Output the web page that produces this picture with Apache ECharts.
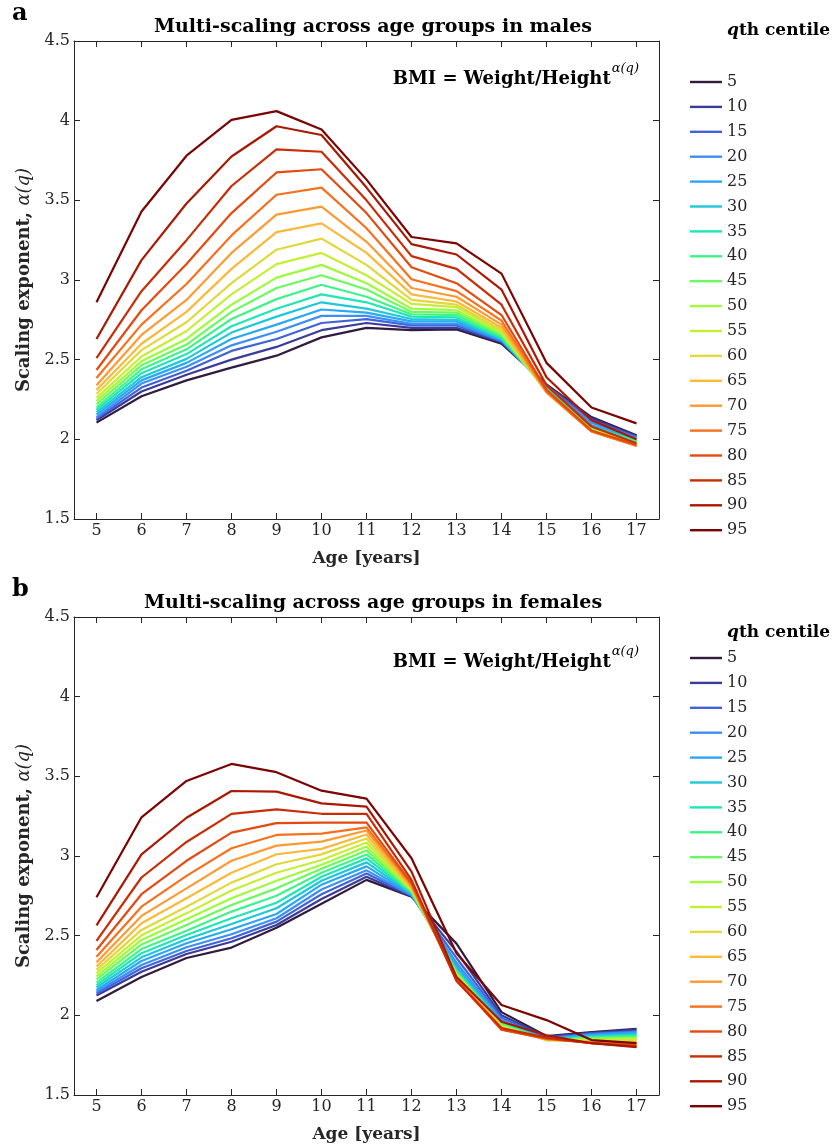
<!DOCTYPE html>
<html><head><meta charset="utf-8">
<script src="https://cdn.jsdelivr.net/npm/echarts@6/dist/echarts.min.js"></script>
<style>html,body{margin:0;padding:0;background:#fff}#c{width:835px;height:1144px}</style>
</head><body><div id="c"></div>
<script>
const ages = [5, 6, 7, 8, 9, 10, 11, 12, 13, 14, 15, 16, 17];
const centiles = ['5','10','15','20','25','30','35','40','45','50','55','60','65','70','75','80','85','90','95'];
const yTicks = [1.5, 2, 2.5, 3, 3.5, 4, 4.5];

// males: one row per centile (5..95), one value per age (5..17)
const males = [
  [2.105, 2.27, 2.37, 2.45, 2.525, 2.64, 2.70, 2.685, 2.69, 2.60, 2.345, 2.14, 2.025],
  [2.12, 2.30, 2.405, 2.50, 2.58, 2.685, 2.73, 2.70, 2.70, 2.61, 2.34, 2.13, 2.02],
  [2.13, 2.325, 2.43, 2.555, 2.63, 2.73, 2.755, 2.715, 2.715, 2.615, 2.335, 2.12, 2.015],
  [2.14, 2.35, 2.455, 2.59, 2.675, 2.775, 2.775, 2.725, 2.725, 2.62, 2.33, 2.105, 2.01],
  [2.155, 2.37, 2.48, 2.63, 2.72, 2.815, 2.795, 2.74, 2.74, 2.625, 2.325, 2.09, 2.0],
  [2.17, 2.39, 2.505, 2.67, 2.77, 2.86, 2.82, 2.755, 2.75, 2.63, 2.32, 2.08, 1.995],
  [2.185, 2.415, 2.535, 2.71, 2.82, 2.91, 2.86, 2.77, 2.765, 2.635, 2.315, 2.075, 1.99],
  [2.20, 2.44, 2.565, 2.755, 2.88, 2.97, 2.895, 2.785, 2.78, 2.645, 2.31, 2.07, 1.985],
  [2.22, 2.465, 2.595, 2.80, 2.95, 3.03, 2.94, 2.80, 2.795, 2.655, 2.305, 2.065, 1.98],
  [2.24, 2.49, 2.63, 2.845, 3.015, 3.095, 2.98, 2.82, 2.81, 2.665, 2.30, 2.06, 1.975],
  [2.26, 2.52, 2.68, 2.91, 3.10, 3.17, 3.03, 2.85, 2.83, 2.675, 2.30, 2.055, 1.97],
  [2.285, 2.56, 2.735, 2.98, 3.19, 3.26, 3.095, 2.875, 2.845, 2.685, 2.295, 2.055, 1.965],
  [2.31, 2.60, 2.80, 3.07, 3.30, 3.355, 3.17, 2.91, 2.865, 2.70, 2.295, 2.05, 1.96],
  [2.34, 2.655, 2.875, 3.17, 3.41, 3.46, 3.24, 2.95, 2.895, 2.72, 2.295, 2.05, 1.96],
  [2.385, 2.72, 2.975, 3.28, 3.535, 3.58, 3.325, 3.005, 2.93, 2.745, 2.30, 2.05, 1.96],
  [2.435, 2.81, 3.10, 3.42, 3.675, 3.695, 3.42, 3.08, 2.98, 2.78, 2.31, 2.055, 1.965],
  [2.51, 2.93, 3.25, 3.59, 3.82, 3.805, 3.50, 3.15, 3.07, 2.845, 2.34, 2.08, 1.975],
  [2.63, 3.125, 3.48, 3.775, 3.965, 3.91, 3.58, 3.225, 3.16, 2.94, 2.39, 2.12, 2.0],
  [2.86, 3.43, 3.78, 4.005, 4.06, 3.945, 3.63, 3.27, 3.23, 3.04, 2.48, 2.20, 2.10]
];

// females: one row per centile (5..95), one value per age (5..17)
const females = [
  [2.09, 2.24, 2.36, 2.425, 2.55, 2.70, 2.85, 2.745, 2.45, 2.02, 1.87, 1.895, 1.915],
  [2.125, 2.274, 2.385, 2.462, 2.567, 2.73, 2.87, 2.748, 2.40, 2.0, 1.865, 1.89, 1.91],
  [2.137, 2.295, 2.404, 2.484, 2.588, 2.76, 2.89, 2.75, 2.36, 1.985, 1.86, 1.885, 1.90],
  [2.148, 2.316, 2.427, 2.509, 2.609, 2.79, 2.91, 2.755, 2.33, 1.97, 1.855, 1.88, 1.895],
  [2.16, 2.341, 2.452, 2.54, 2.636, 2.82, 2.935, 2.76, 2.31, 1.96, 1.85, 1.875, 1.89],
  [2.175, 2.364, 2.477, 2.573, 2.672, 2.845, 2.96, 2.765, 2.29, 1.955, 1.85, 1.87, 1.88],
  [2.19, 2.39, 2.504, 2.609, 2.707, 2.87, 2.985, 2.77, 2.28, 1.95, 1.848, 1.865, 1.875],
  [2.205, 2.416, 2.531, 2.651, 2.751, 2.895, 3.01, 2.775, 2.27, 1.945, 1.845, 1.86, 1.87],
  [2.225, 2.445, 2.567, 2.693, 2.797, 2.92, 3.035, 2.78, 2.265, 1.94, 1.845, 1.855, 1.86],
  [2.245, 2.473, 2.603, 2.735, 2.845, 2.945, 3.06, 2.785, 2.26, 1.935, 1.845, 1.85, 1.855],
  [2.265, 2.502, 2.64, 2.783, 2.895, 2.975, 3.085, 2.79, 2.255, 1.93, 1.845, 1.845, 1.85],
  [2.285, 2.536, 2.682, 2.833, 2.948, 3.01, 3.11, 2.795, 2.25, 1.925, 1.845, 1.84, 1.84],
  [2.306, 2.578, 2.735, 2.895, 3.011, 3.045, 3.135, 2.80, 2.245, 1.92, 1.848, 1.835, 1.83],
  [2.333, 2.624, 2.797, 2.97, 3.065, 3.09, 3.16, 2.81, 2.235, 1.915, 1.85, 1.83, 1.825],
  [2.368, 2.682, 2.875, 3.049, 3.132, 3.14, 3.18, 2.82, 2.23, 1.91, 1.852, 1.828, 1.815],
  [2.41, 2.76, 2.97, 3.147, 3.206, 3.21, 3.21, 2.83, 2.22, 1.91, 1.855, 1.825, 1.81],
  [2.467, 2.865, 3.088, 3.264, 3.293, 3.265, 3.265, 2.85, 2.215, 1.92, 1.86, 1.825, 1.805],
  [2.565, 3.01, 3.24, 3.408, 3.404, 3.33, 3.31, 2.902, 2.24, 1.96, 1.875, 1.825, 1.80],
  [2.741, 3.243, 3.471, 3.578, 3.526, 3.41, 3.36, 2.986, 2.39, 2.065, 1.97, 1.845, 1.825]
];

// turbo-like colours, one per centile
const colors = ['#311b3f', '#3b3b9b', '#4063d9', '#3d8ef5', '#2aa8f5', '#1fc8d8', '#1fe6b5',
  '#3ff38a', '#69fb5e', '#9efb3c', '#c6ee35', '#e1d83c', '#fbb93a', '#fe9a32', '#f7701e',
  '#e44a10', '#c92d06', '#a91803', '#7a0403'];

const INK = '#262626';
const SERIF = '"DejaVu Serif", "Liberation Serif", serif';
const GRID_TOPS = [41, 617];
const GRID_H = 478;
const BMI_TOPS = [57, 640];
const LEGEND_TITLE_TOPS = [17, 619];

const grids = GRID_TOPS.map(t => ({ left: 74, width: 585, top: t, height: GRID_H }));

const xAxes = [], yAxes = [];
[0, 1].forEach(g => {
  const baseX = {
    type: 'value', gridIndex: g, min: 4.5, max: 17.5,
    axisLine: { show: true, onZero: false, lineStyle: { color: INK, width: 1 } },
    axisTick: { show: true, inside: true, length: 6, customValues: ages, lineStyle: { color: INK } },
    splitLine: { show: false }
  };
  xAxes.push(Object.assign({}, baseX, {
    position: 'bottom',
    axisLabel: { show: true, customValues: ages, color: INK, fontFamily: SERIF, fontSize: 16, margin: 4 },
    name: 'Age [years]', nameLocation: 'middle', nameGap: 31,
    nameTextStyle: { color: INK, fontFamily: SERIF, fontSize: 17, fontWeight: 'bold' }
  }));
  xAxes.push(Object.assign({}, baseX, { position: 'top', axisLabel: { show: false } }));
  const baseY = {
    type: 'value', gridIndex: g, min: 1.5, max: 4.5, interval: 0.5,
    axisLine: { show: true, onZero: false, lineStyle: { color: INK, width: 1 } },
    axisTick: { show: true, inside: true, length: 6, lineStyle: { color: INK } },
    splitLine: { show: false }
  };
  yAxes.push(Object.assign({}, baseY, {
    position: 'left',
    axisLabel: { show: true, color: INK, fontFamily: SERIF, fontSize: 16, margin: 4,
      customValues: yTicks, formatter: v => String(v) },
    name: '{b|Scaling exponent, }{m|α(q)}', nameLocation: 'middle', nameGap: 37, nameRotate: 90,
    nameTextStyle: { color: INK, rich: {
      b: { fontFamily: SERIF, fontSize: 18, fontWeight: 'bold', color: INK },
      m: { fontFamily: SERIF, fontSize: 18, fontStyle: 'italic', fontWeight: 'normal', color: INK }
    } }
  }));
  yAxes.push(Object.assign({}, baseY, { position: 'right', axisLabel: { show: false } }));
});

const series = [];
[males, females].forEach((panel, g) => {
  panel.forEach((row, i) => {
    series.push({
      type: 'line', name: centiles[i],
      xAxisIndex: g * 2, yAxisIndex: g * 2,
      data: ages.map((a, k) => [a, row[k]]),
      showSymbol: false, symbol: 'none',
      lineStyle: { width: 2.2, color: colors[i] },
      itemStyle: { color: colors[i] },
      emphasis: { disabled: true }, animation: false
    });
  });
});

const legends = GRID_TOPS.map(t => ({
  orient: 'vertical', left: 685, top: t + 28,
  data: centiles, icon: 'rect', itemWidth: 32, itemHeight: 2.4, itemGap: 8.9,
  selectedMode: false,
  textStyle: { color: INK, fontFamily: SERIF, fontSize: 16, lineHeight: 16 }
}));

const titles = [];
[['a', 'Multi-scaling across age groups in males', 0], ['b', 'Multi-scaling across age groups in females', 1]]
.forEach(([letter, txt, g]) => {
  const t = GRID_TOPS[g];
  titles.push({ text: letter, left: 7, top: t - 44,
    textStyle: { fontFamily: SERIF, fontSize: 24, fontWeight: 'bold', color: '#000' } });
  titles.push({ text: txt, left: 368, top: t - 28, textAlign: 'center',
    textStyle: { fontFamily: SERIF, fontSize: 19, fontWeight: 'bold', color: '#000' } });
  titles.push({ text: '{b|BMI = Weight/Height}{s|α(q)}', left: 634, top: BMI_TOPS[g], textAlign: 'right',
    textStyle: { fontWeight: 'normal', rich: {
      b: { fontFamily: SERIF, fontSize: 18, fontWeight: 'bold', color: '#000', lineHeight: 26, verticalAlign: 'bottom' },
      s: { fontFamily: SERIF, fontSize: 13, fontStyle: 'italic', fontWeight: 'normal', color: '#000', lineHeight: 26, verticalAlign: 'top', padding: [0, 0, 12, 1] }
    } } });
  titles.push({ text: '{q|q}{b|th centile}', left: 722, top: LEGEND_TITLE_TOPS[g],
    textStyle: { rich: {
      q: { fontFamily: SERIF, fontSize: 17, fontStyle: 'italic', fontWeight: 'bold', color: '#000' },
      b: { fontFamily: SERIF, fontSize: 17, fontWeight: 'bold', color: '#000' }
    } } });
});

const chart = echarts.init(document.getElementById('c'), null, { renderer: 'canvas' });
chart.setOption({
  backgroundColor: '#fff',
  animation: false,
  title: titles,
  legend: legends,
  grid: grids,
  xAxis: xAxes,
  yAxis: yAxes,
  series: series
});
</script>
</body></html>
